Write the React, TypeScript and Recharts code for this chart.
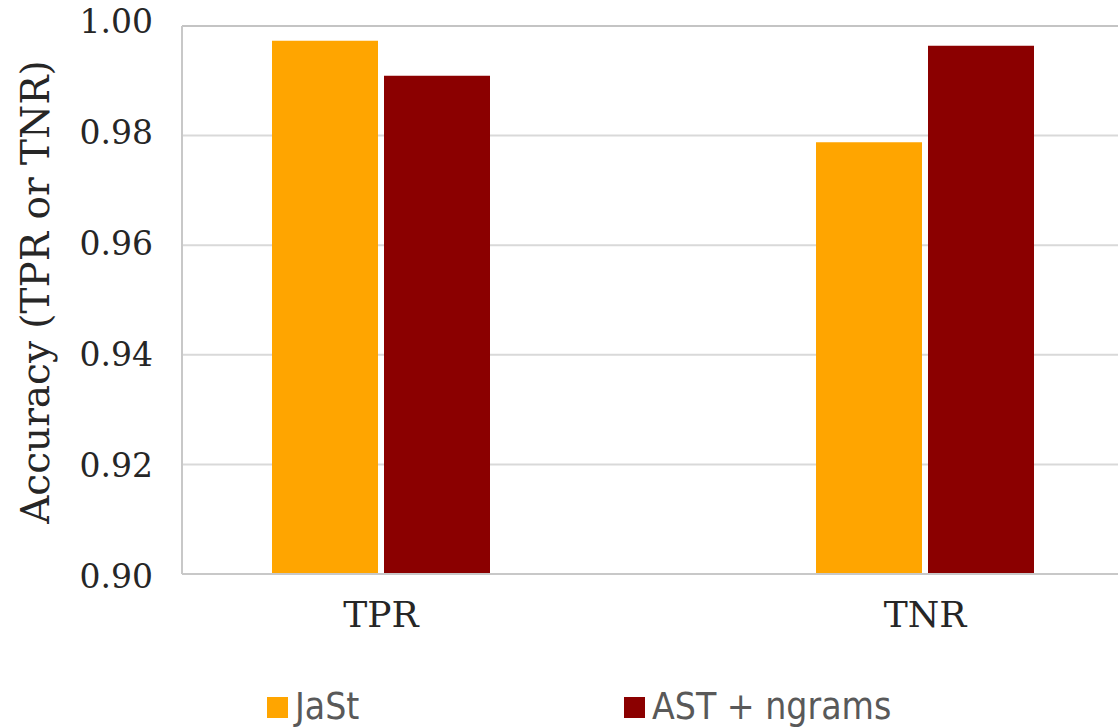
import { Bar, BarChart, CartesianGrid, Label, ReferenceLine, XAxis, YAxis } from 'recharts';

const metrics = ['TPR', 'TNR'];
const jastValues = [0.9973, 0.9788];
const astNgramValues = [0.9909, 0.9964];
const yTicks = [0.9, 0.92, 0.94, 0.96, 0.98, 1.0];

const seriesNames = ['JaSt', 'AST + ngrams'];
const seriesColors = ['#FFA500', '#8B0000'];

const data = metrics.map((metric, i) => ({
  metric,
  jast: jastValues[i],
  astNgrams: astNgramValues[i],
}));

const SERIF = '"DejaVu Serif", serif';
const SANS = '"DejaVu Sans Condensed", "DejaVu Sans", sans-serif';

function YTick({ x, y, payload, index }: any) {
  // labels drift slightly downward from the gridlines in the original
  const dy = 7 + (yTicks.length - 1 - index) * 1.4;
  return (
    <text x={x} y={y} dy={dy} textAnchor="end" fontFamily={SERIF} fontSize={33} fill="#262626">
      {Number(payload.value).toFixed(2)}
    </text>
  );
}

function XTick({ x, y, payload }: any) {
  return (
    <text x={x} y={y} dy={53} textAnchor="middle" fontFamily={SERIF} fontSize={36} fill="#262626">
      {payload.value}
    </text>
  );
}

function YLabel(props: any) {
  const vb = props.viewBox ?? { x: 0, y: 26, width: 182, height: 548 };
  const cx = vb.x + 49;
  const cy = vb.y + vb.height / 2 - 8;
  return (
    <text
      x={cx}
      y={cy}
      transform={`rotate(-90, ${cx}, ${cy})`}
      textAnchor="middle"
      fontFamily={SERIF}
      fontSize={39}
      fill="#262626"
    >
      Accuracy (TPR or TNR)
    </text>
  );
}

export default function App() {
  return (
    <div style={{ position: 'absolute', left: 0, top: 0, width: 1118, height: 727, overflow: 'hidden', background: '#fff' }}>
      <BarChart
        width={1118}
        height={640}
        data={data}
        margin={{ top: 26, right: 0, bottom: 0, left: 0 }}
        barSize={106}
        barGap={6}
      >
        <CartesianGrid vertical={false} stroke="#d9d9d9" strokeWidth={2} />
        <XAxis
          dataKey="metric"
          height={66}
          padding={{ left: -73, right: -79 }}
          tickLine={false}
          tickSize={0}
          tickMargin={0}
          axisLine={{ stroke: '#c8c8c8', strokeWidth: 2 }}
          tick={<XTick />}
        />
        <YAxis
          width={182}
          domain={[0.9, 1.0]}
          ticks={yTicks}
          tickLine={false}
          tickSize={0}
          tickMargin={29}
          axisLine={{ stroke: '#c8c8c8', strokeWidth: 2 }}
          tick={<YTick />}
        >
          <Label content={<YLabel />} />
        </YAxis>
        <ReferenceLine y={1.0} stroke="#c4c4c4" strokeWidth={2} />
        <Bar dataKey="jast" name={seriesNames[0]} fill={seriesColors[0]} isAnimationActive={false} />
        <Bar dataKey="astNgrams" name={seriesNames[1]} fill={seriesColors[1]} isAnimationActive={false} />
      </BarChart>
      <svg width={1118} height={87} style={{ position: 'absolute', left: 0, top: 640 }}>
        <rect x={267} y={57} width={21} height={21} fill={seriesColors[0]} />
        <text x={295} y={79} fontFamily={SANS} fontSize={37} fill="#595959">
          {seriesNames[0]}
        </text>
        <rect x={624} y={57} width={21} height={21} fill={seriesColors[1]} />
        <text x={652} y={79} fontFamily={SANS} fontSize={37} fill="#595959">
          {seriesNames[1]}
        </text>
      </svg>
    </div>
  );
}
